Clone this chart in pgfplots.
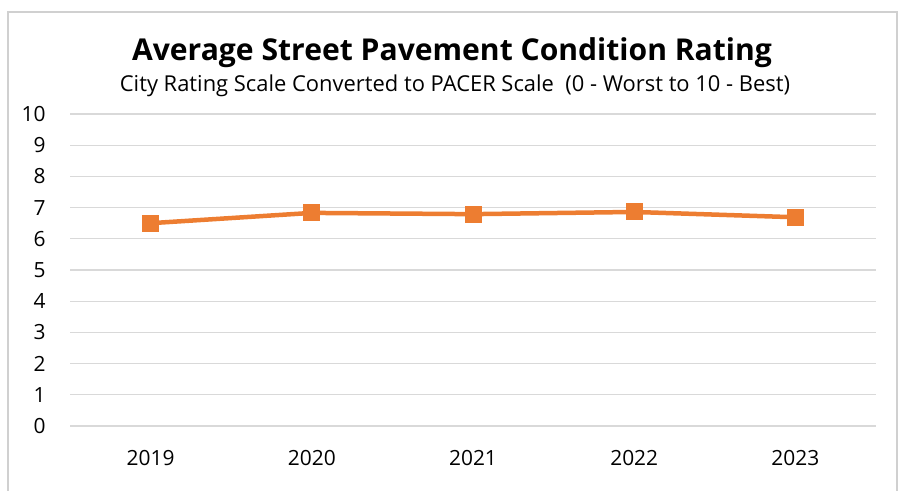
\documentclass[border=0pt]{standalone}
\usepackage{fontspec}
\setmainfont{Open Sans}
\usepackage{pgfplots}
\pgfplotsset{compat=1.18}
\definecolor{xlorange}{HTML}{ED7D31}
\definecolor{xlgrid}{HTML}{D9D9D9}
\definecolor{xlframe}{HTML}{D0D0D0}

\begin{document}
\begin{tikzpicture}[x=1bp,y=1bp]
\path[use as bounding box] (0,0) rectangle (902,491);
\draw[xlframe, line width=2bp] (8,-5) -- (8,479) -- (897,479) -- (897,-5);
\node[font=\bfseries\fontsize{30.2}{34}\selectfont, anchor=base] at (452,430) {Average Street Pavement Condition Rating};
\node[font=\fontsize{22}{25}\selectfont, anchor=base] at (455,399) {City Rating Scale Converted to PACER Scale\ \ (0 - Worst to 10 - Best)};
\begin{axis}[
    at={(70bp,65bp)}, anchor=south west,
    scale only axis,
    width=806bp, height=312bp,
    xmin=-0.5, xmax=4.5,
    ymin=0, ymax=10,
    xtick={0,1,2,3,4},
    xticklabels={2019,2020,2021,2022,2023},
    ytick={0,1,...,10},
    axis line style={draw=none},
    major tick length=0pt,
    ymajorgrids,
    grid style={xlgrid, line width=1.3bp},
    tick label style={font=\fontsize{21}{24}\selectfont},
    yticklabel style={xshift=-21bp},
    xticklabel style={yshift=-21bp},
    /pgf/number format/assume math mode=true,
    clip=false,
]
\addplot[xlorange, line width=4.5bp, mark=square*, mark size=8bp,
    mark options={fill=xlorange, line width=0pt}] coordinates {
    (0,6.50) (1,6.83) (2,6.79) (3,6.86) (4,6.69)
};
\end{axis}
\end{tikzpicture}
\end{document}
